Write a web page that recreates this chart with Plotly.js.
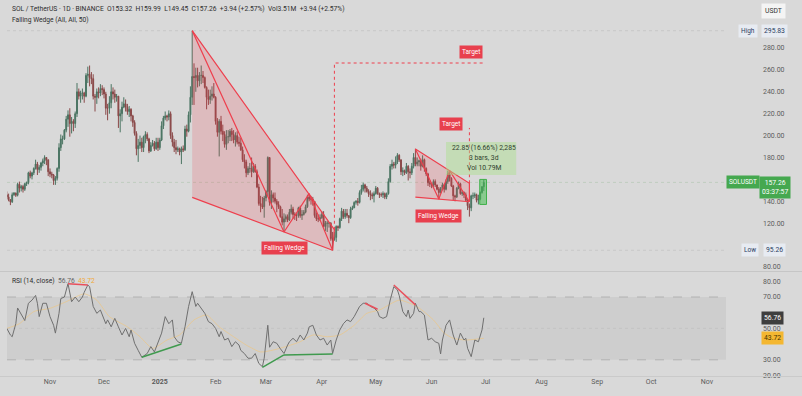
<!DOCTYPE html>
<html><head><meta charset="utf-8">
<script src="https://cdn.plot.ly/plotly-3.0.1.min.js"></script>
<style>html,body{margin:0;padding:0;background:#d9d9d9;}#chart{width:802px;height:396px;}</style>
</head><body><div id="chart"></div>
<script>
// ---------- data ----------
const startDate = '2024-10-08';
const firstOpen = 146;
const closes = [
144,141.5,139.5,146,147.5,145.5,155.5,152,153.5,151,156,157,166,163,166,170,174,169,171,175,177,180,178,167,
165,164,159,161,170,189,197,197,205,215,219,211,213,211,220,240,236,239,239,236,255,256,253,252,236,235,240,239,243,242,
238,225,225,230,240,238,235,236,218,220,226,229,226,222,224,218,212,202,188,191,194,189,199,201,197,186,191,193,188,194,189,
196,209,216,218,217,220,200,194,189,187,188,185,188,187,206,204,219,235,254,253,255,250,255,255,253,244,235,233,236,238,235,
213,203,213,204,201,192,199,199,204,201,196,200,194,193,187,178,176,166,170,170,167,172,167,153,138,136,135,143,
149,180,139,146,143,140,137,135,126,121,124,126,123,130,133,128,127,127,134,127,128,130,135,144,142,142,140,127,124,124,125,
128,117,120,120,120,106,105,107,117,116,124,131,126,129,127,125,133,134,139,140,139,148,151,155,152,149,147,146,145,147,
152,147,146,146,147,144,147,158,172,174,173,176,182,178,167,168,166,172,167,166,172,180,174,176,177,172,178,170,165,157,156,
155,158,155,151,148,152,155,151,158,165,161,154,145,144,152,156,147,148,146,141,136,134,145,145,146,141,142,148,153.32,157.26];
const highs = [
149,147,142,148,148.5,148,157,158,155,155,157,158,167,168,167,171,178,176,173,176,179,182,180,178,
170,167,165,163,171,193,201,200,206,218,223,225,217,215,222,248,243,241,243,240,257,263,264,258,256,238,243,244,247,246,
244,240,229,236,247,244,242,238,236,224,231,235,233,229,227,225,219,214,204,197,200,198,200,204,203,198,194,196,195,198,198,
198,213,218,222,219,223,222,203,197,196,190,189,190,191,209,210,222,245,295.83,266,262,262,258,264,259,254,245,242,242,245,248,
236,216,215,218,210,204,205,205,206,207,205,203,204,199,198,190,183,178,172,175,180,175,174,169,156,145,144,145,
150,181,180,150,148,148,142,140,136,133,129,128,128,133,137,135,130,129,135,136,132,132,137,146,147,145,144,140,130,128,128,
131,131,122,122,121,121,112,112,118,118,125,134,133,133,133,127,135,136,140,141,143,150,155,157,156,154,151,150,148,149,
154,153,148,148,149,148,148,161,174,178,176,181,184,183,178,171,169,175,173,170,175,184,188,180,178,179,182,179,171,166,159,
157,160,160,155,153,153,157,156,160,168,168,162,155,146,153,158,157,150,149,148,142,138,146,148,148,147,146,149,154,159.99];
const lows = [
142,140,136.5,138.5,145,144,144.5,148,149,148,149.5,154,155.5,161,160,164,169,164,166,168,172,174,173,163,
162,161,155,155,159,167,186,192,196,203,208,199,202,204,207,217,233,230,233,230,235,248,245,247,233,222,229,234,236,237,
234,219,214,220,225,233,230,231,207,203,213,225,222,219,217,213,208,200,182,176,188,185,185,193,195,184,185,190,186,187,186,
187,195,206,214,213,214,197,190,185,183,185,182,174,185,186,199,203,212,228,228,240,244,245,247,248,243,224,228,229,232,234,
210,199,181,201,195,189,187,193,195,195,193,190,192,190,186,176,170,162,164,166,162,166,166,152,136,130,133,125,
140,145,136,133,139,138,130,133,125,118,112,121,121,122,128,124,123,122,125,125,123,127,129,134,140,137,136,125,122,121,122,
124,116,113,112,116,104,95.26,104,103,113,115,122,124,124,125,120,124,132,134,137,136,138,146,149,148,148,144,141,142,139,
146,146,143,144,143,142,142,146,157,169,170,170,174,176,164,163,164,165,159,161,164,170,172,172,172,168,171,167,163,154,153,
152,153,153,150,142,147,150,148,150,156,158,153,141,140,143,151,146,145,143,140,132,126,131,142,143,139,137.14,141,147,149.45];

// RSI (14, close): day index into the candle dates, value
const rsiDay = [0,2,3,5,6,8,10,12,14,16,17,18,20,22,24,26,27,29,30,32,34,36,38,40,42,43,45,46,48,50,52,55,56,58,60,62,64,66,68,69,71,73,75,78,80,82,84,86,88,90,92,93,95,97,99,101,103,105,106,108,110,112,114,116,118,119,121,123,125,127,129,130,132,134,136,138,140,142,143,145,146,148,150,152,154,156,157,159,161,163,165,167,168,170,172,174,176,178,180,181,183,185,187,189,191,193,194,196,198,200,202,204,206,207,209,211,213,215,217,218,220,222,223,224,226,227,229,230,232,234,236,238,240,241,242,244,246,248,250,252,254,255,256,258,260,262,264,265];
const rsiVal = [50,45.8,44.7,53,63,58.5,55,66,68,71,66,57.5,66,66,57.5,52,47,59.6,69,70,78.5,67,70,67,70,73,77.6,76.6,64,59.6,61.7,53,55.4,51,56.4,51,45.8,50,44.7,49,40.5,36,31.6,34,38.4,35,41.5,47,57.5,53,55.4,44.7,41.5,40.5,51,64,73.4,64,66,63,59.6,54.3,53,50,44.7,48,42.6,43.7,38.4,41.5,39.4,36,34,31,31,34,27.7,25.6,31,52,38,41.5,40.5,37,34,39.4,41.5,43.7,41.5,45.8,42.6,47,51,52,45.8,42.6,43.7,39.4,42.6,34,42.6,49,53,55.4,54.3,57.5,59.6,64,66,66,64,63,60.7,57.5,56.4,57.5,68,76.6,74.5,71,60.7,57.5,61.7,56.4,59.6,66,60.7,60.7,58.5,42.6,43.7,41.5,40.5,33.7,42.6,52,55.4,45.8,39.4,47,42.6,43.7,37.3,32,42.6,41.5,49,56.76];
const maDay = [0,7,15,24,33,43,50,57,67,74,81,89,96,104,111,118,126,133,141,148,155,163,170,178,185,193,200,207,218,228,237,243,248,255,265];
const maVal = [50,53,60.7,62.8,67,72,68,57.5,51,44.7,37.3,42.6,45.8,55.4,58.5,51,44.7,39.4,35,36.2,38.4,41.5,45.8,44.7,45.8,52,59.6,61.7,68,63.8,55.4,47,43.7,42.6,43.72];
const bearDivDays = [[34,45],[199,206],[215,227]];
const bearDivVals = [[78.5,77.6],[66,62.2],[77.6,65]];
const bullDivDays = [[75,97],[142,154],[154,181]];
const bullDivVals = [[31.6,40.1],[25.2,33.1],[33.1,33.7]];

// drawings on the price pane
const w1Dates = ['2025-01-19','2025-04-08','2025-04-07','2025-01-19'];
const w1Prices = [295.83,114,95.26,143.6];
const w1ZigDates = ['2025-01-19','2025-03-11','2025-03-25','2025-04-07'];
const w1ZigPrices = [295.83,112,147,95.26];
const w2Dates = ['2025-05-23','2025-06-22','2025-06-22','2025-05-23'];
const w2Prices = [187.8,156.5,139.6,143.8];
const w2ZigDates = ['2025-05-23','2025-06-05','2025-06-11','2025-06-22'];
const w2ZigPrices = [187.8,142,168,139.6];
const target1Dates = ['2025-04-08','2025-04-08','2025-07-01'];
const target1Prices = [114,266.3,266.3];
const target2Dates = ['2025-06-22','2025-06-22'];
const target2Prices = [156.5,207];
const labelDates = {wedge1:'2025-03-11 12:00', wedge2:'2025-06-05', target1:'2025-06-23', target2:'2025-06-12'};
const labelPrices = {wedge1:97.8, wedge2:127, target1:276.3, target2:210.6};
const measureBoxDates = ['2025-06-09','2025-07-18'];
const measureBoxPrices = [164,194.2];
const measureTextDate = '2025-06-30';
const measureTextPrices = [188.7,179.5,170.4];
const measureTexts = ['22.85 (16.66%) 2,285','3 bars, 3d','Vol 10.79M'];
const measureRangeDates = ['2025-06-27 18:00','2025-07-01 12:00'];
const measureRangePrices = [137.14,159.99];

// tick values (those hidden behind the scale badges are left out)
const priceTicks = [80,120,140,180,200,220,240,260,280];
const rsiTicks = [20,30,50,70,80];
const monthTicks = ['2024-11-01','2024-12-01','2025-01-01','2025-02-01','2025-03-01','2025-04-01','2025-05-01','2025-06-01','2025-07-01','2025-08-01','2025-09-01','2025-10-01','2025-11-01'];
const monthLabels = ['Nov','Dec','<b>2025</b>','Feb','Mar','Apr','May','Jun','Jul','Aug','Sep','Oct','Nov'];
const highValue = 295.83, lowValue = 95.26, lastClose = 157.26, rsiLast = 56.76, rsiMaLast = 43.72;

// ---------- build ----------
const dates = [];
const d0 = new Date(startDate + 'T00:00:00Z');
for (let i = 0; i < closes.length; i++) {
  const d = new Date(d0.getTime() + i * 86400000);
  dates.push(d.toISOString().slice(0, 10));
}
const opens = closes.map((c, i) => i === 0 ? firstOpen : closes[i - 1]);

const F = 'Roboto, "Noto Sans", Arial, sans-serif';
const RED = '#ee3f4d';
const traces = [];
traces.push({x:w1Dates, y:w1Prices, xaxis:'x', yaxis:'y', type:'scatter', mode:'lines', fill:'toself', fillcolor:'rgba(240,60,75,0.19)', line:{width:0}, hoverinfo:'skip'});
traces.push({x:w2Dates, y:w2Prices, xaxis:'x', yaxis:'y', type:'scatter', mode:'lines', fill:'toself', fillcolor:'rgba(240,60,75,0.19)', line:{width:0}, hoverinfo:'skip'});
traces.push({type:'candlestick', x:dates, open:opens, high:highs, low:lows, close:closes, xaxis:'x', yaxis:'y',
  increasing:{line:{color:'#4a7462', width:1}, fillcolor:'#4a7462'},
  decreasing:{line:{color:'#8a4848', width:1}, fillcolor:'#8a4848'}, whiskerwidth:0, hoverinfo:'skip'});
function line(x, y, color, w, dash, ax) {
  traces.push({x:x, y:y, xaxis:'x', yaxis:ax || 'y', type:'scatter', mode:'lines', line:{color:color, width:w, dash:dash || 'solid'}, hoverinfo:'skip'});
}
line([w1Dates[0], w1Dates[1], w1Dates[2]], [w1Prices[0], w1Prices[1], w1Prices[2]], RED, 1.2);
line([w1Dates[3], w1Dates[2]], [w1Prices[3], w1Prices[2]], RED, 1.2);
line(w1ZigDates, w1ZigPrices, RED, 1.2);
line([w2Dates[0], w2Dates[1], w2Dates[2]], [w2Prices[0], w2Prices[1], w2Prices[2]], RED, 1.2);
line([w2Dates[3], w2Dates[2]], [w2Prices[3], w2Prices[2]], RED, 1.2);
line(w2ZigDates, w2ZigPrices, RED, 1.2);
line(target1Dates, target1Prices, RED, 1, 'dot');
line(target2Dates, target2Prices, RED, 1, 'dot');
traces.push({x:maDay.map(i => dates[i]), y:maVal, xaxis:'x', yaxis:'y2', type:'scatter', mode:'lines', line:{color:'rgba(242,196,120,0.6)', width:1, shape:'spline', smoothing:0.6}, hoverinfo:'skip'});
traces.push({x:rsiDay.map(i => dates[i]), y:rsiVal, xaxis:'x', yaxis:'y2', type:'scatter', mode:'lines', line:{color:'#6f6f6f', width:1}, hoverinfo:'skip'});
bearDivDays.forEach((p, k) => line(p.map(i => dates[i]), bearDivVals[k], '#e8505c', 1.5, 'solid', 'y2'));
bullDivDays.forEach((p, k) => line(p.map(i => dates[i]), bullDivVals[k], '#3f9a4e', 1.5, 'solid', 'y2'));

// ---------- layout ----------
const L = 7, R = 726, T = 0, B = 376, W = 802, H = 396;
const px = v => (v - L) / (R - L);
const py = v => 1 - (v - T) / (B - T);
const shapes = [
  {type:'rect', xref:'paper', yref:'y2', x0:0, x1:1, y0:30, y1:70, fillcolor:'#cecece', line:{width:0}, layer:'below'},
  {type:'line', xref:'paper', yref:'y2', x0:0, x1:1, y0:70, y1:70, line:{color:'#a9a9a9', width:0.8, dash:'dash'}, layer:'below'},
  {type:'line', xref:'paper', yref:'y2', x0:0, x1:1, y0:30, y1:30, line:{color:'#a9a9a9', width:0.8, dash:'dash'}, layer:'below'},
  {type:'line', xref:'paper', yref:'y2', x0:0, x1:1, y0:50, y1:50, line:{color:'#c2c2c2', width:0.8, dash:'dot'}, layer:'below'},
  {type:'line', xref:'paper', yref:'paper', x0:px(0), x1:px(W), y0:py(271.5), y1:py(271.5), line:{color:'#c6c6c6', width:1}},
  {type:'line', xref:'paper', yref:'paper', x0:px(0), x1:px(W), y0:py(376.5), y1:py(376.5), line:{color:'#cacaca', width:1}},
  {type:'line', xref:'paper', yref:'y', x0:0, x1:1, y0:highValue, y1:highValue, line:{color:'#c4c4c4', width:0.8, dash:'dot'}, layer:'below'},
  {type:'line', xref:'paper', yref:'y', x0:0, x1:1, y0:lowValue, y1:lowValue, line:{color:'#c4c4c4', width:0.8, dash:'dot'}, layer:'below'},
  {type:'line', xref:'paper', yref:'y', x0:0, x1:1, y0:lastClose, y1:lastClose, line:{color:'#b9c9b9', width:0.8, dash:'dot'}, layer:'below'},
  {type:'rect', xref:'x', yref:'y', x0:measureBoxDates[0], x1:measureBoxDates[1], y0:measureBoxPrices[0], y1:measureBoxPrices[1], fillcolor:'rgba(170,225,140,0.45)', line:{width:0}},
  {type:'rect', xref:'x', yref:'y', x0:measureRangeDates[0], x1:measureRangeDates[1], y0:measureRangePrices[0], y1:measureRangePrices[1], fillcolor:'rgba(70,190,80,0.55)', line:{color:'#3fb04a', width:1}}
];
const ann = [];
function a(o) { ann.push(Object.assign({showarrow:false, xanchor:'center', yanchor:'middle', font:{family:F, size:7, color:'#333'}}, o)); }
a({xref:'paper', yref:'paper', x:px(10), y:py(9.5), xanchor:'left',
   text:'SOL / TetherUS · 1D · BINANCE  O153.32  H159.99  L149.45  C157.26  +3.94 (+2.57%)  Vol3.51M  +3.94 (+2.57%)', font:{family:F, size:6.7, color:'#2e2e2e'}});
a({xref:'paper', yref:'paper', x:px(10), y:py(20), xanchor:'left', text:'Falling Wedge (All, All, 50)', font:{family:F, size:6.7, color:'#2e2e2e'}});
a({xref:'paper', yref:'paper', x:px(10), y:py(281), xanchor:'left',
   text:'RSI (14, close)  <span style="color:#666">56.76</span>  <span style="color:#f0a93a">43.72</span>', font:{family:F, size:6.7, color:'#2e2e2e'}});
const lab = (t, x, y) => a({xref:'x', yref:'y', x:x, y:y, text:t, bgcolor:'#e8404e', borderpad:2, font:{family:F, size:6.5, color:'#fff'}});
lab('Falling Wedge', labelDates.wedge1, labelPrices.wedge1);
lab('Falling Wedge', labelDates.wedge2, labelPrices.wedge2);
lab('Target', labelDates.target1, labelPrices.target1);
lab('Target', labelDates.target2, labelPrices.target2);
measureTexts.forEach((t, k) => a({xref:'x', yref:'y', x:measureTextDate, y:measureTextPrices[k], text:t, font:{family:F, size:6.8, color:'#2f3f2f'}}));
a({xref:'paper', yref:'paper', x:px(773), y:py(10.5), text:'USDT', bgcolor:'#f4f4f4', borderpad:3, font:{family:F, size:6.8, color:'#333'}});
a({xref:'paper', yref:'y', x:px(748), y:highValue, text:'High', bgcolor:'#e7ebf2', borderpad:2, font:{family:F, size:6.5, color:'#2c3e62'}});
a({xref:'paper', yref:'y', x:px(774), y:highValue, text:'295.83', bgcolor:'#e7ebf2', borderpad:2, font:{family:F, size:6.8, color:'#2c3e62'}});
a({xref:'paper', yref:'y', x:px(750), y:lowValue, text:'Low', bgcolor:'#e7ebf2', borderpad:2, font:{family:F, size:6.5, color:'#2c3e62'}});
a({xref:'paper', yref:'y', x:px(774), y:lowValue, text:'95.26', bgcolor:'#e7ebf2', borderpad:2, font:{family:F, size:6.8, color:'#2c3e62'}});
a({xref:'paper', yref:'y', x:px(743), y:lastClose, text:'SOLUSDT', bgcolor:'#45a84f', borderpad:2, font:{family:F, size:6.5, color:'#fff'}});
a({xref:'paper', yref:'y', x:px(775), y:lastClose, yanchor:'top', yshift:6, text:'157.26<br>03:37:57', bgcolor:'#45a84f', borderpad:2, font:{family:F, size:6.8, color:'#fff'}});
a({xref:'paper', yref:'y2', x:px(772), y:rsiLast, text:'56.76', bgcolor:'#3e3e3e', borderpad:2, font:{family:F, size:6.8, color:'#fff'}});
a({xref:'paper', yref:'y2', x:px(772), y:rsiMaLast, text:'43.72', bgcolor:'#f4b731', borderpad:2, font:{family:F, size:6.8, color:'#4a3500'}});

const axisFont = {family:F, size:7, color:'#5c5c5c'};
const layout = {
  width:W, height:H, margin:{l:L, r:W - R, t:T, b:H - B},
  paper_bgcolor:'#d9d9d9', plot_bgcolor:'#d9d9d9', showlegend:false,
  xaxis:{type:'date', anchor:'y2', range:['2024-10-08 02:40','2025-11-11 13:20'], tickvals:monthTicks, ticktext:monthLabels,
    ticks:'', showgrid:false, zeroline:false, showline:false, tickfont:axisFont, rangeslider:{visible:false}, fixedrange:true},
  yaxis:{domain:[1 - 271 / 376, 1], range:[76.35, 323.84], side:'right', tickvals:priceTicks, tickformat:'.2f', ticks:'',
    ticklabelstandoff:36, showgrid:false, zeroline:false, showline:false, tickfont:axisFont, fixedrange:true},
  yaxis2:{domain:[0, 1 - 272 / 376], range:[19.68, 85.92], side:'right', tickvals:rsiTicks, tickformat:'.2f', ticks:'',
    ticklabelstandoff:36, showgrid:false, zeroline:false, showline:false, tickfont:axisFont, fixedrange:true},
  shapes:shapes, annotations:ann
};
Plotly.newPlot('chart', traces, layout, {staticPlot:true, displayModeBar:false});
</script></body></html>
